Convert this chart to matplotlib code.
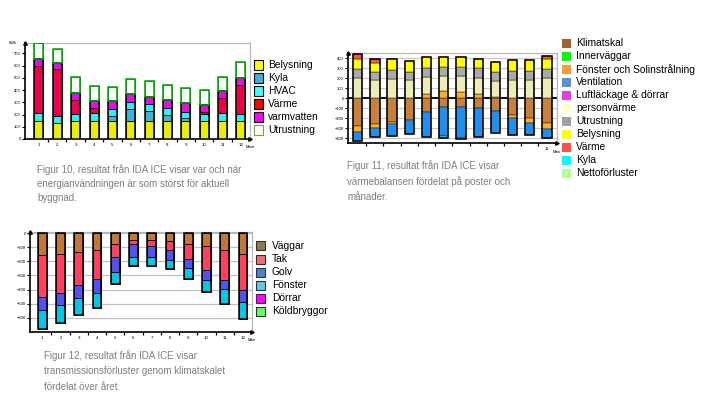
import numpy as np
import matplotlib.pyplot as plt
from matplotlib.patches import Rectangle

plt.rcParams["font.family"] = ["Liberation Sans", "DejaVu Sans"]

W, H = 720, 409
MONTHS = [str(m) for m in range(1, 13)]

# Figur 10 - energianvändning per månad (kWh)
F10_LABELS = ["Belysning", "Kyla", "HVAC", "Värme", "varmvatten", "Utrustning"]
f10_belysning = [150, 135, 150, 148, 150, 145, 150, 150, 148, 150, 148, 150]
f10_kyla = [0, 0, 0, 0, 35, 100, 76, 50, 22, 0, 0, 0]
f10_hvac = [61, 52, 57, 61, 57, 60, 63, 57, 54, 57, 62, 57]
f10_varme = [388, 382, 114, 46, 0, 0, 0, 0, 0, 14, 122, 236]
f10_varmvatten = [57, 54, 54, 57, 65, 65, 54, 65, 68, 57, 57, 57]
f10_utrustning = [130, 117, 133, 125, 122, 122, 133, 122, 122, 124, 122, 130]

# Figur 11 - värmebalans per månad
F11_LABELS = ["Klimatskal", "Innerväggar", "Fönster och Solinstrålning",
              "Ventilation", "Luftläckage & dörrar", "personvärme",
              "Utrustning", "Belysning", "Värme", "Kyla", "Nettoförluster"]
f11_klimatskal = [-277, -260, -240, -220, -140, -90, -93, -100, -130, -170, -200, -250]
f11_innervaggar = [0] * 12
f11_fonster = [-63, -40, -20, 0, 40, 73, 60, 40, 10, -30, -50, -60]
f11_ventilation = [-93, -90, -117, -140, -250, -287, -307, -290, -220, -170, -120, -90]
f11_luftlackage = [0] * 12
f11_personvarme = [200, 177, 190, 180, 170, 147, 160, 160, 160, 180, 180, 200]
f11_utrustning = [90, 80, 93, 80, 90, 90, 90, 100, 90, 90, 90, 90]
f11_belysning = [100, 93, 107, 110, 110, 100, 100, 90, 100, 110, 110, 100]
f11_varme = [50, 40, 0, 0, 0, 0, 0, 0, 0, 0, 0, 30]
f11_kyla = [0, 0, 0, 0, 0, -23, -5, 0, 0, 0, 0, 0]
f11_netto = [0] * 12

# Figur 12 - transmissionsförluster genom klimatskalet
F12_LABELS = ["Väggar", "Tak", "Golv", "Fönster", "Dörrar", "Köldbryggor"]
f12_vaggar = [-158, -148, -134, -120, -78, -49, -49, -56, -78, -92, -120, -144]
f12_tak = [-294, -278, -235, -205, -91, -29, -45, -64, -106, -169, -212, -258]
f12_golv = [-94, -82, -90, -101, -109, -91, -75, -70, -63, -71, -63, -85]
f12_fonster = [-137, -127, -125, -104, -82, -64, -64, -64, -78, -84, -106, -120]
f12_dorrar = [0] * 12
f12_koldbryggor = [0] * 12


def px_axes(fig, left, top, right, bottom):
    return fig.add_axes([left / W, 1 - bottom / H, (right - left) / W, (bottom - top) / H])


def stacked_bars(ax, series, colors, width, edges=None, seg_lw=0.5):
    '''Stack positive values upward and negative values downward.'''
    x = np.arange(1, 13)
    pos = np.zeros(12)
    neg = np.zeros(12)
    edges = edges or ["black"] * len(series)
    for vals, col, ec in zip(series, colors, edges):
        v = np.asarray(vals, float)
        m = v != 0
        if not m.any():
            continue
        bottom = np.where(v >= 0, pos, neg)
        ax.bar(x[m], v[m], width, bottom=bottom[m], color=col,
               edgecolor=ec, linewidth=seg_lw, zorder=3)
        pos += np.clip(v, 0, None)
        neg += np.clip(v, None, 0)
    return x, pos, neg


def style_axes(ax, gray="#b8b8b8"):
    for s in ["top", "right"]:
        ax.spines[s].set_color(gray)
        ax.spines[s].set_linewidth(0.9)
    for s in ["left", "bottom"]:
        ax.spines[s].set_color("black")
        ax.spines[s].set_linewidth(1.2)
    ax.set_xticks(np.arange(1, 13))
    ax.set_xticklabels(MONTHS, fontsize=3.2)
    ax.set_xticks(np.arange(1.5, 12.5, 1), minor=True)
    ax.tick_params(axis="x", which="major", length=0, pad=3)
    ax.tick_params(axis="x", which="minor", length=2.5, width=0.9)
    ax.tick_params(axis="y", labelsize=3, length=2, width=0.8, pad=1)
    # small arrows at the ends of the axes
    ax.plot(0, 1, "^k", ms=2.5, transform=ax.transAxes, clip_on=False, zorder=5)
    ax.plot(1, 0, ">k", ms=2.5, transform=ax.transAxes, clip_on=False, zorder=5)


def draw_legend(fig, x_box, x_text, y0, labels, colors, edge, step=13, size=9, fs=7.4):
    for i, (lab, col) in enumerate(zip(labels, colors)):
        yc = y0 + i * step
        ec = edge[i] if isinstance(edge, list) else edge
        fig.add_artist(Rectangle((x_box / W, 1 - (yc + size / 2) / H), size / W, size / H,
                                 transform=fig.transFigure, facecolor=col,
                                 edgecolor=ec, linewidth=0.8))
        fig.text(x_text / W, 1 - yc / H, lab, va="center", ha="left", fontsize=fs)


def caption(fig, x, y0, lines, step):
    for i, line in enumerate(lines):
        fig.text(x / W, 1 - (y0 + i * step) / H, line, va="center", ha="left",
                 fontsize=7.0, color="#7f7f7f")


def main():
    fig = plt.figure(figsize=(7.2, 4.09), dpi=100)

    # ---------- Figur 10 ----------
    ax1 = px_axes(fig, 25, 42.7, 250, 139)
    c1 = ["#eded00", "#3cb4d4", "#2af2f2", "#f0004c", "#e010e0", "white"]
    e1 = ["black"] * 5 + ["#00a000"]
    series1 = [f10_belysning, f10_kyla, f10_hvac, f10_varme, f10_varmvatten, f10_utrustning]
    x, pos, neg = stacked_bars(ax1, series1, c1, 0.49, edges=e1, seg_lw=0.6)
    below = pos - np.asarray(f10_utrustning)
    ax1.bar(x, below, 0.49, fill=False, edgecolor="black", linewidth=1.1, zorder=4)
    ax1.bar(x, f10_utrustning, 0.49, bottom=below, fill=False,
            edgecolor="#00a000", linewidth=1.1, zorder=4)
    ax1.set_xlim(0.24, 12.5)
    ax1.set_ylim(0, 788)
    ax1.set_yticks(np.arange(0, 701, 100))
    style_axes(ax1)
    ax1.text(-0.035, 1.0, "kWh", transform=ax1.transAxes, fontsize=3, ha="right", va="center")
    ax1.text(1.0, -0.08, "Mont", transform=ax1.transAxes, fontsize=3, ha="center", va="center")

    draw_legend(fig, 254, 268, 65, F10_LABELS,
                ["#ffff00", "#40b0d8", "#40ffff", "#ff0000", "#ff00ff", "white"],
                ["black"] * 5 + ["#80a040"])
    caption(fig, 37, 170, ["Figur 10, resultat från IDA ICE visar var och när",
                           "energianvändningen är som störst för aktuell",
                           "byggnad."], 14)

    # ---------- Figur 11 ----------
    ax2 = px_axes(fig, 348, 53, 557, 143.3)
    c2 = ["#c8803c", "#00ff00", "#ffb020", "#2090f0", "#e040e0", "#ececb8",
          "#aaaaaa", "#ffff00", "#ff5050", "#00ffff", "#b0ff90"]
    series2 = [f11_klimatskal, f11_innervaggar, f11_fonster, f11_ventilation,
               f11_luftlackage, f11_personvarme, f11_utrustning, f11_belysning,
               f11_varme, f11_kyla, f11_netto]
    x, pos, neg = stacked_bars(ax2, series2, c2, 0.54, seg_lw=0.3)
    ax2.bar(x, pos - neg, 0.54, bottom=neg, fill=False, edgecolor="black",
            linewidth=1.1, zorder=4)
    ax2.set_xlim(0.44, 12.58)
    ax2.set_ylim(-453, 450)
    ax2.set_yticks(np.arange(-400, 401, 100))
    ax2.yaxis.grid(True, color="#c8c8c8", linewidth=0.8, zorder=0)
    ax2.axhline(0, color="black", linewidth=1.3, zorder=2)
    style_axes(ax2)
    ax2.set_xticklabels([""] * 11 + ["12"], fontsize=3)
    ax2.text(1.0, -0.1, "Mån", transform=ax2.transAxes, fontsize=3, ha="center", va="center")

    draw_legend(fig, 562, 576, 43.3, F11_LABELS,
                ["#a06030", "#00ff00", "#ff9933", "#5590d8", "#e040e0", "#ffffcc",
                 "#a0a0a0", "#ffff00", "#ff5050", "#00ffff", "#b0ff90"], "none")
    caption(fig, 347, 166, ["Figur 11, resultat från IDA ICE visar",
                            "värmebalansen fördelat på poster och",
                            "månader."], 15.3)

    # ---------- Figur 12 ----------
    ax3 = px_axes(fig, 30, 231.7, 251.7, 332.3)
    c3 = ["#c07838", "#ff4062", "#5252f0", "#00c6e8", "#ff00ff", "#60ff60"]
    series3 = [f12_vaggar, f12_tak, f12_golv, f12_fonster, f12_dorrar, f12_koldbryggor]
    x, pos, neg = stacked_bars(ax3, series3, c3, 0.48, seg_lw=0.7)
    ax3.bar(x, pos - neg, 0.48, bottom=neg, fill=False, edgecolor="black",
            linewidth=1.1, zorder=4)
    ax3.set_xlim(0.33, 12.48)
    ax3.set_ylim(-704, 11)
    ax3.set_yticks(np.arange(-600, 1, 100))
    ax3.yaxis.grid(True, color="#c0c0c0", linewidth=0.9, zorder=0)
    style_axes(ax3)
    ax3.text(1.0, -0.08, "Mån", transform=ax3.transAxes, fontsize=3, ha="center", va="center")

    draw_legend(fig, 256, 271.7, 246, F12_LABELS,
                ["#8b7d4a", "#f07070", "#5080d0", "#60c8e8", "#ff00ff", "#60ff60"], "#303030")
    caption(fig, 44, 355.7, ["Figur 12, resultat från IDA ICE visar",
                             "transmissionsförluster genom klimatskalet",
                             "fördelat över året."], 15.5)

    fig.savefig("out.png", dpi=100)


if __name__ == "__main__":
    main()
